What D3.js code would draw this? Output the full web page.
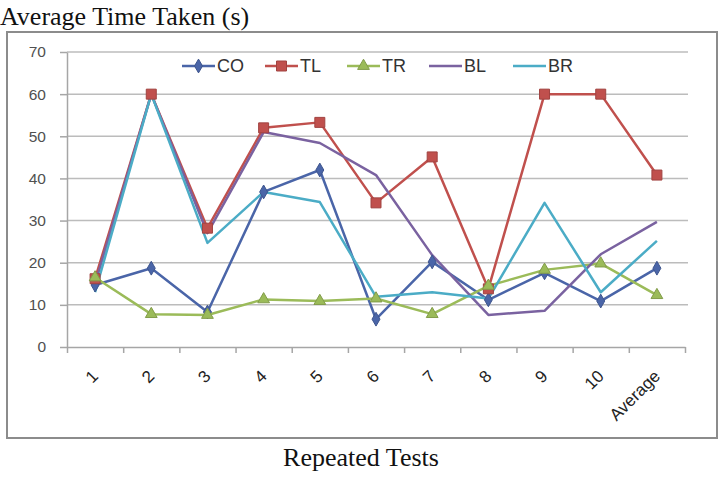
<!DOCTYPE html>
<html><head><meta charset="utf-8">
<script src="https://cdn.jsdelivr.net/npm/d3@7"></script>
<style>html,body{margin:0;padding:0;background:#fff;}svg{display:block;}</style>
</head><body>
<svg id="c" width="722" height="477"></svg>
<script>
const categories = ["1","2","3","4","5","6","7","8","9","10","Average"];
const seriesNames = ["CO","TL","TR","BL","BR"];
const CO = [14.7, 18.7, 8.3, 36.8, 42.0, 6.6, 20.2, 11.2, 17.6, 10.9, 18.7];
const TL = [16.2, 60.0, 28.2, 52.0, 53.3, 34.2, 45.1, 13.8, 60.0, 60.0, 40.8];
const TR = [16.5, 7.8, 7.6, 11.3, 10.9, 11.5, 7.8, 14.5, 18.3, 19.8, 12.3];
const BL = [15.0, 60.0, 27.0, 51.0, 48.4, 40.8, 21.8, 7.6, 8.6, 22.0, 29.7];
const BR = [13.0, 60.0, 24.7, 36.8, 34.4, 11.9, 13.0, 11.5, 34.2, 13.0, 25.2];
const yTicks = [0,10,20,30,40,50,60,70];
const seriesData = [CO, TL, TR, BL, BR];
const colors = ["#4A65A8","#C0504D","#9BBB59","#7A62A0","#4BACC6"];
const markers = ["diamond","square","triangle",null,null];

const svg = d3.select("#c");
// chart frame
svg.append("rect").attr("x",7).attr("y",32).attr("width",710).attr("height",406)
  .attr("fill","#fff").attr("stroke","#8c8c8c").attr("stroke-width",2);

const L = 67, R = 685, T = 52, B = 347;
const y = d3.scaleLinear().domain([0,70]).range([B,T]);
const x = d3.scalePoint().domain(categories).range([L,R]).padding(0.5);
const xIdx = d3.scaleLinear().domain([0,categories.length]).range([L,R]);

// gridlines
svg.append("g").selectAll("line").data(yTicks.filter(d=>d>0)).join("line")
  .attr("x1",L).attr("x2",R+3).attr("y1",d=>y(d)).attr("y2",d=>y(d))
  .attr("stroke","#bcbcbc").attr("stroke-width",1.5);

// y axis
const ya = svg.append("g").attr("transform",`translate(${L},0)`)
  .call(d3.axisLeft(y).tickValues(yTicks).tickSize(7).tickSizeOuter(0).tickPadding(14));
ya.select(".domain").attr("stroke","#a6a6a6").attr("stroke-width",1.5);
ya.selectAll(".tick line").attr("stroke","#a6a6a6").attr("stroke-width",1.5);
ya.selectAll("text").attr("font-family","Liberation Sans, Arial, sans-serif")
  .attr("font-size",15.5).attr("fill","#505050");

// x axis
const xa = svg.append("g").attr("transform",`translate(0,${B})`)
  .call(d3.axisBottom(xIdx).tickValues(d3.range(categories.length+1)).tickFormat("").tickSize(6).tickSizeOuter(0));
xa.select(".domain").attr("stroke","#a6a6a6").attr("stroke-width",1.5);
xa.selectAll(".tick line").attr("stroke","#a6a6a6").attr("stroke-width",1.5);

svg.append("g").selectAll("text").data(categories).join("text")
  .attr("transform",d=>`translate(${x(d)},${B+26}) rotate(-45)`)
  .attr("text-anchor","end").attr("dy","0.35em")
  .attr("font-family","Liberation Sans, Arial, sans-serif").attr("font-size",17)
  .attr("fill","#222").text(d=>d);

// lines
const line = d3.line().x((d,i)=>x(categories[i])).y(d=>y(d));
const symType = {diamond:d3.symbolDiamond, square:d3.symbolSquare, triangle:d3.symbolTriangle};
const symSize = {diamond:55, square:100, triangle:60};
seriesData.forEach((vals,k)=>{
  svg.append("path").datum(vals).attr("d",line).attr("fill","none")
    .attr("stroke",colors[k]).attr("stroke-width",2.5).attr("stroke-linejoin","round");
});
seriesData.forEach((vals,k)=>{
  if(!markers[k]) return;
  svg.append("g").selectAll("path").data(vals).join("path")
    .attr("transform",(d,i)=>`translate(${x(categories[i])},${y(d)})`)
    .attr("d",d3.symbol().type(symType[markers[k]]).size(symSize[markers[k]]))
    .attr("fill",colors[k]).attr("stroke",d3.color(colors[k]).darker(0.5)).attr("stroke-width",1);
});

// legend
const legX = [182, 265, 347, 429, 513];
const legY = 66;
seriesNames.forEach((n,k)=>{
  const g = svg.append("g").attr("transform",`translate(${legX[k]},${legY})`);
  g.append("line").attr("x1",0).attr("x2",33).attr("stroke",colors[k]).attr("stroke-width",2.5);
  if(markers[k]) g.append("path").attr("transform","translate(16.5,0)")
    .attr("d",d3.symbol().type(symType[markers[k]]).size(symSize[markers[k]]))
    .attr("fill",colors[k]).attr("stroke",d3.color(colors[k]).darker(0.5));
  g.append("text").attr("x",35).attr("dy","0.36em")
    .attr("font-family","Liberation Sans, Arial, sans-serif").attr("font-size",18)
    .attr("fill","#333").text(n);
});

// titles
svg.append("text").attr("x",0).attr("y",25)
  .attr("font-family","Liberation Serif, Times New Roman, serif").attr("font-size",26)
  .attr("fill","#111").text("Average Time Taken (s)");
svg.append("text").attr("x",361).attr("y",466).attr("text-anchor","middle")
  .attr("font-family","Liberation Serif, Times New Roman, serif").attr("font-size",26)
  .attr("fill","#111").text("Repeated Tests");
</script>
</body></html>
